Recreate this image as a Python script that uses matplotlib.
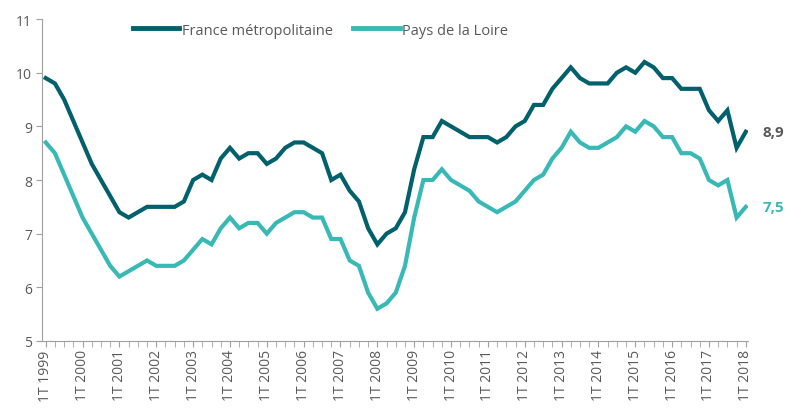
import matplotlib
matplotlib.use("Agg")
from matplotlib import pyplot as plt
import numpy as np

plt.rcParams["font.family"] = ["Open Sans", "DejaVu Sans"]

# quarterly unemployment rate, 1T 1999 .. 1T 2018
quarters = [f"{q}T {y}" for y in range(1999, 2019) for q in range(1, 5)][:77]
france = [9.9, 9.8, 9.5, 9.1, 8.7, 8.3, 8.0, 7.7, 7.4, 7.3, 7.4, 7.5,
          7.5, 7.5, 7.5, 7.6, 8.0, 8.1, 8.0, 8.4, 8.6, 8.4, 8.5, 8.5,
          8.3, 8.4, 8.6, 8.7, 8.7, 8.6, 8.5, 8.0, 8.1, 7.8, 7.6, 7.1,
          6.8, 7.0, 7.1, 7.4, 8.2, 8.8, 8.8, 9.1, 9.0, 8.9, 8.8, 8.8,
          8.8, 8.7, 8.8, 9.0, 9.1, 9.4, 9.4, 9.7, 9.9, 10.1, 9.9, 9.8,
          9.8, 9.8, 10.0, 10.1, 10.0, 10.2, 10.1, 9.9, 9.9, 9.7, 9.7, 9.7,
          9.3, 9.1, 9.3, 8.6, 8.9]
loire = [8.7, 8.5, 8.1, 7.7, 7.3, 7.0, 6.7, 6.4, 6.2, 6.3, 6.4, 6.5,
         6.4, 6.4, 6.4, 6.5, 6.7, 6.9, 6.8, 7.1, 7.3, 7.1, 7.2, 7.2,
         7.0, 7.2, 7.3, 7.4, 7.4, 7.3, 7.3, 6.9, 6.9, 6.5, 6.4, 5.9,
         5.6, 5.7, 5.9, 6.4, 7.3, 8.0, 8.0, 8.2, 8.0, 7.9, 7.8, 7.6,
         7.5, 7.4, 7.5, 7.6, 7.8, 8.0, 8.1, 8.4, 8.6, 8.9, 8.7, 8.6,
         8.6, 8.7, 8.8, 9.0, 8.9, 9.1, 9.0, 8.8, 8.8, 8.5, 8.5, 8.4,
         8.0, 7.9, 8.0, 7.3, 7.5]
names = ["France métropolitaine", "Pays de la Loire"]
colors = ["#00606C", "#38B9B5"]
grey = "#595959"

fig = plt.figure(figsize=(7.87, 4.10), dpi=100)
ax = fig.add_axes([0.054, 0.166, 0.896, 0.785])

x = np.arange(len(quarters))
for vals, name, c in zip([france, loire], names, colors):
    ax.plot(x, vals, color=c, lw=3, label=name, solid_joinstyle="miter")

ax.set_ylim(5, 11)
ax.set_yticks(range(5, 12))
ax.set_xlim(-0.35, 76.2)
ax.set_xticks(x[::4])
ax.set_xticklabels(quarters[::4], rotation=90)
ax.set_xticks(x, minor=True)

for s in ["top", "right"]:
    ax.spines[s].set_visible(False)
for s in ["left", "bottom"]:
    ax.spines[s].set_color("#A0A0A0")
ax.tick_params(axis="both", which="both", color="#A0A0A0", length=4,
               labelcolor=grey, labelsize=10)
ax.tick_params(axis="x", pad=2)

ax.annotate("8,9", (x[-1], france[-1]), xytext=(12, 0), textcoords="offset points",
            va="center", fontsize=11, fontweight="bold", color=grey)
ax.annotate("7,5", (x[-1], loire[-1]), xytext=(12, 0), textcoords="offset points",
            va="center", fontsize=11, fontweight="bold", color=colors[1])

leg = ax.legend(loc="upper center", bbox_to_anchor=(0.394, 1.03), ncol=2,
                frameon=False, handlelength=3.2, handletextpad=0.15,
                columnspacing=1.4, fontsize=10.5)
for t in leg.get_texts():
    t.set_color(grey)
for h in leg.get_lines():
    h.set_linewidth(3.5)

fig.savefig("out.png", dpi=100)
